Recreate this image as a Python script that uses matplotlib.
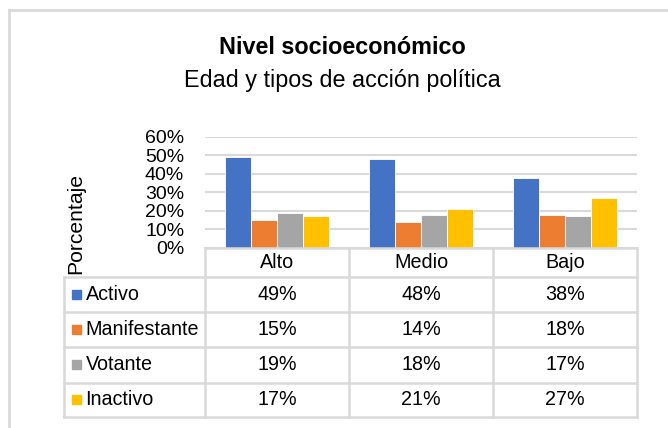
import matplotlib
matplotlib.use("Agg")
import matplotlib.pyplot as plt
from matplotlib.lines import Line2D
from matplotlib.patches import Rectangle
import numpy as np

plt.rcParams['font.family'] = ['Liberation Sans', 'DejaVu Sans']

categories = ["Alto", "Medio", "Bajo"]
series_names = ["Activo", "Manifestante", "Votante", "Inactivo"]
activo = [0.49, 0.48, 0.38]
manifestante = [0.15, 0.14, 0.18]
votante = [0.19, 0.18, 0.17]
inactivo = [0.17, 0.21, 0.27]
colors = ["#4472C4", "#ED7D31", "#A5A5A5", "#FFC000"]
yticks = [0, 0.1, 0.2, 0.3, 0.4, 0.5, 0.6]
title = "Nivel socioeconómico"
subtitle = "Edad y tipos de acción política"
ylabel = "Porcentaje"

series = [activo, manifestante, votante, inactivo]

W, H = 668, 428
fig = plt.figure(figsize=(W / 100, H / 100), dpi=100)
fig.patch.set_facecolor("white")

def fx(px):
    return px / W

def fy(py):
    return 1 - py / H

grid_c = "#D9D9D9"

# outer frame (partial, as in reference)
fig.add_artist(Line2D([fx(9), fx(9)], [fy(10), fy(430)], color=grid_c, lw=2, transform=fig.transFigure))
fig.add_artist(Line2D([fx(9), fx(670)], [fy(10), fy(10)], color=grid_c, lw=2, transform=fig.transFigure))

# plot area
left, right = 205, 637
top, bottom = 136.7, 248
ax = fig.add_axes([fx(left), fy(bottom), fx(right - left), (bottom - top) / H])
ax.set_xlim(-0.5, len(categories) - 0.5)
ax.set_ylim(0, 0.6)
for s in ax.spines.values():
    s.set_visible(False)
ax.set_yticks(yticks)
ax.set_yticklabels([f"{int(round(t * 100))}%" for t in yticks], fontsize=14, color="#000000")
ax.tick_params(axis="y", length=0, pad=15)
ax.set_xticks([])
ax.yaxis.grid(True, color=grid_c, lw=1.5)
ax.set_axisbelow(True)

bw = 0.18
x = np.arange(len(categories))
offsets = (np.arange(len(series)) - (len(series) - 1) / 2) * bw
for vals, off, c in zip(series, offsets, colors):
    ax.bar(x + off, vals, width=bw, color=c, edgecolor="white", linewidth=0.6, zorder=3)

# titles
fig.text(fx(342), fy(48), title, ha="center", va="center", fontsize=16.8, fontweight="bold")
fig.text(fx(342), fy(80), subtitle, ha="center", va="center", fontsize=16.8)
fig.text(fx(76), fy(224), ylabel, ha="center", va="center", rotation=90, fontsize=15.2)

# data table
ncat = len(categories)
colw = (right - left) / ncat
col_x = [left + i * colw for i in range(ncat + 1)]
tbl_left = 64
row_y = [248, 277, 312, 347, 382.5, 417]

def hline(y, x0, x1):
    fig.add_artist(Line2D([fx(x0), fx(x1)], [fy(y), fy(y)], color=grid_c, lw=1.8, transform=fig.transFigure, zorder=5))

def vline(xp, y0, y1):
    fig.add_artist(Line2D([fx(xp), fx(xp)], [fy(y0), fy(y1)], color=grid_c, lw=1.8, transform=fig.transFigure, zorder=5))

hline(row_y[0], left, right)
for y in row_y[1:]:
    hline(y, tbl_left, right)
vline(tbl_left, row_y[1], row_y[-1])
for xp in col_x:
    vline(xp, row_y[0], row_y[-1])

# header
for i, cat in enumerate(categories):
    fig.text(fx(col_x[i] + colw / 2), fy((row_y[0] + row_y[1]) / 2 + 0.5), cat,
             ha="center", va="center", fontsize=14.2)

for r, (name, vals, c) in enumerate(zip(series_names, series, colors)):
    yc = (row_y[r + 1] + row_y[r + 2]) / 2
    fig.add_artist(Rectangle((fx(72), fy(yc + 4.5)), fx(9), 9.5 / H, color=c, transform=fig.transFigure))
    fig.text(fx(85.5), fy(yc), name, ha="left", va="center", fontsize=14.2)
    for i, v in enumerate(vals):
        fig.text(fx(col_x[i] + colw / 2), fy(yc), f"{int(round(v * 100))}%",
                 ha="center", va="center", fontsize=14.2)

fig.savefig("out.png", dpi=100, facecolor="white")
